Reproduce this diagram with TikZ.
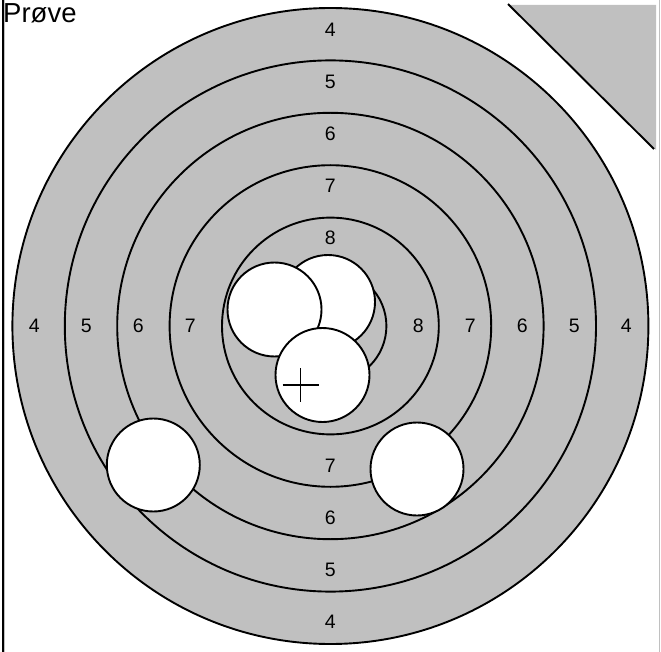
\documentclass[tikz,border=0pt]{standalone}
\usepackage{fontspec}
\setmainfont{Liberation Sans}
\usetikzlibrary{calc}
\begin{document}
\begin{tikzpicture}[x=1pt,y=-1pt,
  ring/.style={draw=black,line width=1.9pt,fill=tgray},
  hole/.style={draw=black,line width=1.9pt,fill=white},
  num/.style={font=\fontsize{19.5}{19.5}\selectfont,inner sep=0pt}]
\definecolor{tgray}{RGB}{192,192,192}
\useasboundingbox (0,0) rectangle (661,652);
% frame lines
\draw[line width=2pt] (3,0) -- (3,652);
\draw[tgray,line width=1pt] (4.8,0) -- (4.8,652);
\draw[tgray,line width=1.4pt] (659.5,0) -- (659.5,652);
% corner triangle
\fill[tgray] (510,5) -- (656,5) -- (656,150) -- cycle;
\coordinate (ta) at (508,4);
\coordinate (tb) at (654,149);
\draw[line width=1.9pt] (ta) -- (tb);
% target
\coordinate (c) at (330.4,326);
\foreach \r in {318,265.6,213.2,160.8,108.4,56}
  \draw[ring] (c) circle[radius=\r];
% labels
\foreach \v/\r in {4/296,5/244,6/192,7/140,8/88} {
  \node[num] at ($(c)+(0,-\r)$) {\v};
  \node[num] at ($(c)+(\r,0)$) {\v};
}
\foreach \v/\r in {4/296,5/244,6/192,7/140} {
  \node[num] at ($(c)+(-\r,0)$) {\v};
  \node[num] at ($(c)+(0,\r)$) {\v};
}
% holes
\draw[hole] (328,302) circle[radius=47];
\draw[hole] (274.5,309.5) circle[radius=47];
\draw[hole] (322.5,375) circle[radius=47];
\draw[hole] (153.3,465) circle[radius=46.5];
\draw[hole] (417,469) circle[radius=46.5];
% cross
\coordinate (x0) at (300.5,385);
\draw[line width=1.6pt] ($(x0)+(-18,0)$) -- ($(x0)+(18,0)$);
\draw[line width=1.6pt] ($(x0)+(0,-17)$) -- ($(x0)+(0,17)$);
% title
\node[anchor=base west,inner sep=0pt,font=\fontsize{27.5}{27.5}\selectfont] (t) at (3,23) {Prøve};
\end{tikzpicture}
\end{document}
